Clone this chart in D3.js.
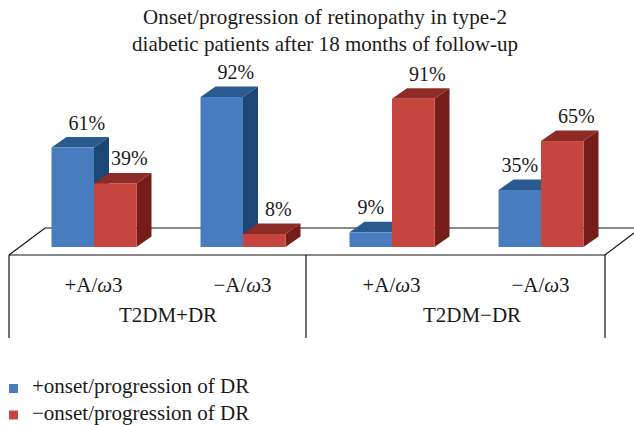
<!DOCTYPE html>
<html>
<head>
<meta charset="utf-8">
<script src="https://cdn.jsdelivr.net/npm/d3@7"></script>
<style>
html, body { margin: 0; padding: 0; background: #fff; }
svg { display: block; }
text { font-family: "Liberation Serif", serif; fill: #1a1a1a; }
</style>
</head>
<body>
<svg id="chart" width="634" height="425"></svg>
<script>
// Chart data
const categories = ['+A/ω3', '−A/ω3', '+A/ω3 ', '−A/ω3 '];
const groups = ['T2DM+DR', 'T2DM−DR'];
const seriesNames = ['+onset/progression of DR', '−onset/progression of DR'];
const positive = [61, 92, 9, 35];
const negative = [39, 8, 91, 65];
const titleLines = ['Onset/progression of retinopathy in type-2', 'diabetic patients after 18 months of follow-up'];

const colors = [
    { front: '#487cbe', top: '#2a5b90', side: '#1c4676' },
    { front: '#c6463f', top: '#8e2b27', side: '#761c19' }
];

const svg = d3.select('#chart');
const width = 634;
const depthX = 15, depthY = 10.5;
const floorTop = 228, floorFront = 255, tableBottom = 338;

const x = d3.scaleBand().domain(categories).range([9, 605]);
const xInner = d3.scaleBand().domain([0, 1]).range([-32, 53]);
const y = d3.scaleLinear().domain([0, 100]).range([247, 84]);

// Floor of the 3D chart and the table below it
const axis = svg.append('g').attr('fill', 'none').attr('stroke', '#111').attr('stroke-width', 1.2);
axis.append('path').attr('d', `M9,${floorFront}L45,${floorTop}H${width}`);
axis.append('path').attr('d', `M9,${floorFront}H605L${width},${floorFront - 22}`);
[9, 306, 605].forEach(px => {
    axis.append('line').attr('x1', px).attr('x2', px).attr('y1', floorFront).attr('y2', tableBottom);
});

// Bars
const bars = categories.flatMap((c, i) => [
    { cat: c, s: 0, v: positive[i], other: negative[i] },
    { cat: c, s: 1, v: negative[i], other: positive[i] }
]);

const barG = svg.append('g').selectAll('g').data(bars).enter().append('g');
const x0 = d => x(d.cat) + x.bandwidth() / 2 + xInner(d.s);
const w = xInner.bandwidth();

barG.append('polygon')
    .attr('fill', d => colors[d.s].top)
    .attr('points', d => {
        const l = x0(d), t = y(d.v);
        return [[l, t], [l + depthX, t - depthY], [l + w + depthX, t - depthY], [l + w, t]].join(' ');
    });
barG.append('polygon')
    .attr('fill', d => colors[d.s].side)
    .attr('points', d => {
        const r = x0(d) + w, t = y(d.v), b = y(0);
        return [[r, t], [r + depthX, t - depthY], [r + depthX, b - depthY], [r, b]].join(' ');
    });
barG.append('rect')
    .attr('fill', d => colors[d.s].front)
    .attr('x', x0)
    .attr('y', d => y(d.v))
    .attr('width', w)
    .attr('height', d => y(0) - y(d.v));

// Value labels, centred over the bar top unless the red bar next to it hides that side
barG.append('text')
    .attr('text-anchor', 'middle')
    .attr('font-size', 20)
    .attr('x', d => x0(d) + w / 2 + ((d.s === 0 && d.other > d.v) ? 0 : 14))
    .attr('y', d => y(d.v) - 18)
    .text(d => d.v + '%');

// Category labels
const catLabel = svg.append('g').selectAll('text').data(categories).enter().append('text')
    .attr('text-anchor', 'middle')
    .attr('font-size', 21)
    .attr('x', d => x(d) + x.bandwidth() / 2 + 10)
    .attr('y', 292);
catLabel.each(function(d) {
    const t = d3.select(this);
    const parts = d.trim().split('ω');
    t.append('tspan').text(parts[0]);
    t.append('tspan').attr('font-style', 'italic').text('ω');
    t.append('tspan').text(parts[1]);
});

svg.append('g').selectAll('text').data(groups).enter().append('text')
    .attr('text-anchor', 'middle')
    .attr('font-size', 21)
    .attr('x', (d, i) => [168, 472][i])
    .attr('y', 322)
    .text(d => d);

// Title
svg.append('g').selectAll('text').data(titleLines).enter().append('text')
    .attr('text-anchor', 'middle')
    .attr('font-size', 21)
    .attr('textLength', (d, i) => [364, 386][i])
    .attr('lengthAdjust', 'spacing')
    .attr('x', 325)
    .attr('y', (d, i) => 24 + i * 27)
    .text(d => d);

// Legend
const legend = svg.append('g').selectAll('g').data(seriesNames).enter().append('g')
    .attr('transform', (d, i) => `translate(9, ${393 + i * 26.5})`);
legend.append('rect').attr('y', -9).attr('width', 9).attr('height', 9).attr('fill', (d, i) => colors[i].front);
legend.append('text').attr('x', 23).attr('y', 0).attr('font-size', 21).text(d => d);
</script>
</body>
</html>
